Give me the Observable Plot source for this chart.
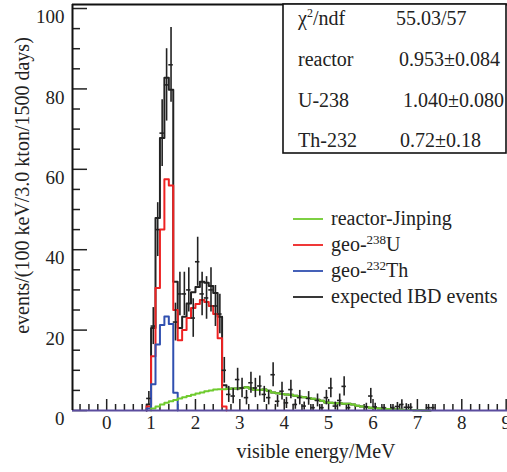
<!DOCTYPE html>
<html><head><meta charset="utf-8">
<script src="https://cdn.jsdelivr.net/npm/d3@7"></script>
<script src="https://cdn.jsdelivr.net/npm/@observablehq/plot@0.6"></script>
<style>
body{margin:0;background:#fff;}
#wrap{width:507px;height:472px;}
</style></head><body><div id="wrap"></div>
<script>
// ---- data (0.1 MeV bins; each array lists bins from its first lower edge) ----
const binWidth = 0.1;
const redStart = 0.9;   // geo-238U
const red = [1, 13.5, 30.5, 45, 57.5, 56, 25, 17.5, 20, 23, 25.5, 26.5, 27.5, 27, 26, 24, 18, 1];
const blueStart = 0.9;  // geo-232Th
const blue = [0.5, 6.5, 16.4, 21.3, 23.4, 21.5, 4.4];
const greenStart = 1.0; // reactor-Jinping
const green = [0.5, 1.0, 1.5, 1.9, 2.3, 2.6, 3.0, 3.3, 3.6, 3.9, 4.2, 4.5, 4.8, 5.0, 5.2, 5.3,
  5.3, 5.4, 5.5, 5.5, 5.6, 5.8, 5.5, 5.1, 5.1, 5.2, 4.9, 4.5, 4.3, 4.1, 4.0, 3.9, 3.7, 3.4, 3.3,
  3.1, 2.9, 2.7, 2.4, 2.0, 1.9, 1.8, 1.8, 1.7, 1.7, 1.5, 1.2, 1.0, 0.85, 0.7, 0.6, 0.5, 0.45,
  0.35, 0.3, 0.25, 0.2, 0.15, 0.1, 0.08, 0.05, 0.03, 0.02];
const blackStart = 0.9; // expected IBD events (peak part; tail coincides with reactor)
const blackPeak = [1.5, 20.5, 47.9, 67.8, 82.8, 79.8, 32, 20.5, 23.3, 26.6, 29.4, 30.7, 32, 31.8, 31, 29.2, 23.3, 6.3];
const dataStart = 0.9;  // pseudo-data points
const dataVal = [3, 21, 45, 69, 81, 86, 22, 29, 29, 30, 23, 37, 29, 28, 30, 26, 24, 10,
  4.0, 3.6, 7.7, 5.6, 3.2, 6.9, 5.6, 6.1, 4.0, 3.2, 8.9, 2.3, 4.8, 1.9, 5.2, 1.5, 3.2, 1.1, 3.0,
  0.7, 2.5, 0.7, 3.2, 5.6, 1.1, 2.5, 6.0, 0.7, null, null, null, 0.9, 3.6, 0.9, null, 0.7, null,
  0.7, 1.0, 1.5, 0.8, 0.8, null, null, null, 0.7, 0.7];
const dataErr = [1.7, 4.6, 6.7, 8.3, 9, 9.3, 4.7, 5.4, 5.4, 5.5, 4.8, 6.1, 5.4, 5.3, 5.5, 5.1, 4.9, 3.2,
  2, 1.9, 2.8, 2.4, 1.8, 2.6, 2.4, 2.5, 2, 1.8, 3, 1.5, 2.2, 1.4, 2.3, 1.2, 1.8, 1.0, 1.7,
  0.8, 1.6, 0.8, 1.8, 2.4, 1.0, 1.6, 2.4, 0.8, null, null, null, 0.9, 1.9, 0.9, null, 0.8, null,
  0.8, 1.0, 1.2, 0.9, 0.9, null, null, null, 0.8, 0.8];
const xMajor = [0, 1, 2, 3, 4, 5, 6, 7, 8, 9];
const xMinor = d3.range(-6, 91, 2).map(d => d / 10).filter(d => !xMajor.includes(d));
const yMajor = [0, 20, 40, 60, 80, 100];
const yMinor = [5, 10, 15, 25, 30, 35, 45, 50, 55, 65, 70, 75, 85, 90, 95];
const xTitle = "visible energy/MeV";
const yTitle = "events/(100 keV/3.0 kton/1500 days)";
const legendItems = [
  {name: "reactor-Jinping", color: "#6fcb2e"},
  {name: ["geo-", "238", "U"], color: "#ee2222"},
  {name: ["geo-", "232", "Th"], color: "#3050b0"},
  {name: "expected IBD events", color: "#222222"}
];
const statsRows = [
  {label: ["χ", "2", "/ndf"], value: "55.03/57"},
  {label: "reactor", value: "0.953±0.084"},
  {label: "U-238", value: "1.040±0.080"},
  {label: "Th-232", value: "0.72±0.18"}
];

// ---- helpers ----
const edge = (start, i) => Math.round((start + i * binWidth) * 100) / 100;
function steps(vals, start) {
  const pts = [{x: edge(start, 0), y: 0}];
  vals.forEach((v, i) => pts.push({x: edge(start, i), y: v}));
  pts.push({x: edge(start, vals.length), y: 0});
  return pts;
}
const blackTailOffset = Math.round((blackStart + blackPeak.length * binWidth - greenStart) / binWidth);
const blackAll = blackPeak.concat(green.slice(blackTailOffset));
const points = dataVal.map((v, i) => ({x0: edge(dataStart, i), x1: edge(dataStart, i + 1),
  xc: edge(dataStart, i) + binWidth / 2, y: v, e: dataErr[i]})).filter(d => d.y != null);

const xDomain = [-0.77, 9.03], yDomain = [0, 101];
const frameW = 507 - 72, frameH = 472 - 4 - 62;
const plot = Plot.plot({
  width: 507, height: 472,
  marginLeft: 72, marginRight: 0, marginTop: 4, marginBottom: 62,
  x: {domain: xDomain, ticks: xMajor, tickSize: 0, tickPadding: 5, label: null},
  y: {domain: yDomain, ticks: yMajor, tickSize: 0, tickPadding: 8, label: null},
  style: {fontFamily: "'Liberation Serif', 'Times New Roman', serif", fontSize: "19px", color: "#222", background: "white"},
  marks: [
    Plot.tickY(yMajor, {y: d => d, insetRight: frameW - 15, stroke: "#222", strokeWidth: 1.5}),
    Plot.tickY(yMinor, {y: d => d, insetRight: frameW - 8, stroke: "#222", strokeWidth: 1.5}),
    Plot.tickX(xMajor, {x: d => d, insetTop: frameH - 11, stroke: "#222", strokeWidth: 1.5}),
    Plot.tickX(xMinor, {x: d => d, insetTop: frameH - 6, stroke: "#222", strokeWidth: 1.5}),
    Plot.line(steps(blackAll, blackStart), {x: "x", y: "y", curve: "step-after", stroke: "#222", strokeWidth: 2}),
    Plot.line(steps(red, redStart), {x: "x", y: "y", curve: "step-after", stroke: "#ee2222", strokeWidth: 2}),
    Plot.line(steps(blue, blueStart), {x: "x", y: "y", curve: "step-after", stroke: "#3050b0", strokeWidth: 2}),
    Plot.line(steps(green, greenStart), {x: "x", y: "y", curve: "step-after", stroke: "#6fcb2e", strokeWidth: 2}),
    Plot.ruleX(points, {x: "xc", y1: d => Math.max(0, d.y - d.e), y2: d => d.y + d.e, stroke: "#222", strokeWidth: 1.6}),
    Plot.ruleY(points, {y: "y", x1: "x0", x2: "x1", stroke: "#222", strokeWidth: 1.6}),
    Plot.ruleY([0], {stroke: "#5b4d9e", strokeWidth: 2}),
    Plot.ruleY([yDomain[1]], {stroke: "#111", strokeWidth: 2.2}),
    Plot.ruleX([xDomain[0]], {stroke: "#111", strokeWidth: 2}),
    Plot.text([yTitle], {frameAnchor: "left", text: d => d, rotate: -90, dx: -50, dy: -22,
      textAnchor: "middle", lineAnchor: "middle", fontSize: 20, fill: "#222"}),
    Plot.text([xTitle], {frameAnchor: "bottom", text: d => d, dx: 26, dy: 41,
      textAnchor: "middle", lineAnchor: "middle", fontSize: 20, fill: "#222"})
  ]
});
document.getElementById("wrap").appendChild(plot);

// nudge y tick labels slightly down (as in the reference), keeping "100" inside the picture
d3.select(plot).selectAll('g[aria-label^="y-axis"] text').attr("dy", "0.45em");

// ---- legend & stats box (inside the frame) ----
const svg = d3.select(plot);
const font = "'Liberation Serif', 'Times New Roman', serif";
const lg = svg.append("g").attr("font-family", font).attr("font-size", 20).attr("fill", "#222").attr("text-anchor", "start");
const legY = [219, 245, 271, 297];
legendItems.forEach((it, i) => {
  lg.append("line").attr("x1", 293).attr("x2", 323).attr("y1", legY[i]).attr("y2", legY[i])
    .attr("stroke", it.color).attr("stroke-width", 1.8);
  const t = lg.append("text").attr("x", 331).attr("y", legY[i]).attr("dy", "0.32em").attr("text-anchor", "start");
  if (Array.isArray(it.name)) {
    t.append("tspan").text(it.name[0]);
    t.append("tspan").attr("font-size", 13).attr("dy", -7).text(it.name[1]);
    t.append("tspan").attr("font-size", 20).attr("dy", 7).text(it.name[2]);
  } else t.text(it.name);
});
const sg = svg.append("g").attr("font-family", font).attr("font-size", 20).attr("fill", "#222").attr("text-anchor", "start");
sg.append("rect").attr("x", 283).attr("y", 4).attr("width", 223).attr("height", 149)
  .attr("fill", "white").attr("stroke", "#111").attr("stroke-width", 1.6);
const rowY = [19, 60, 101, 141];
const valX = [396, 399, 403, 400];
statsRows.forEach((r, i) => {
  const t = sg.append("text").attr("x", 298).attr("y", rowY[i]).attr("dy", "0.32em").attr("text-anchor", "start");
  if (Array.isArray(r.label)) {
    t.append("tspan").text(r.label[0]);
    t.append("tspan").attr("font-size", 12).attr("dy", -8).text(r.label[1]);
    t.append("tspan").attr("font-size", 20).attr("dy", 8).text(r.label[2]);
  } else t.text(r.label);
  sg.append("text").attr("x", valX[i]).attr("y", rowY[i]).attr("dy", "0.32em").attr("text-anchor", "start").text(r.value);
});
</script>
</body></html>
